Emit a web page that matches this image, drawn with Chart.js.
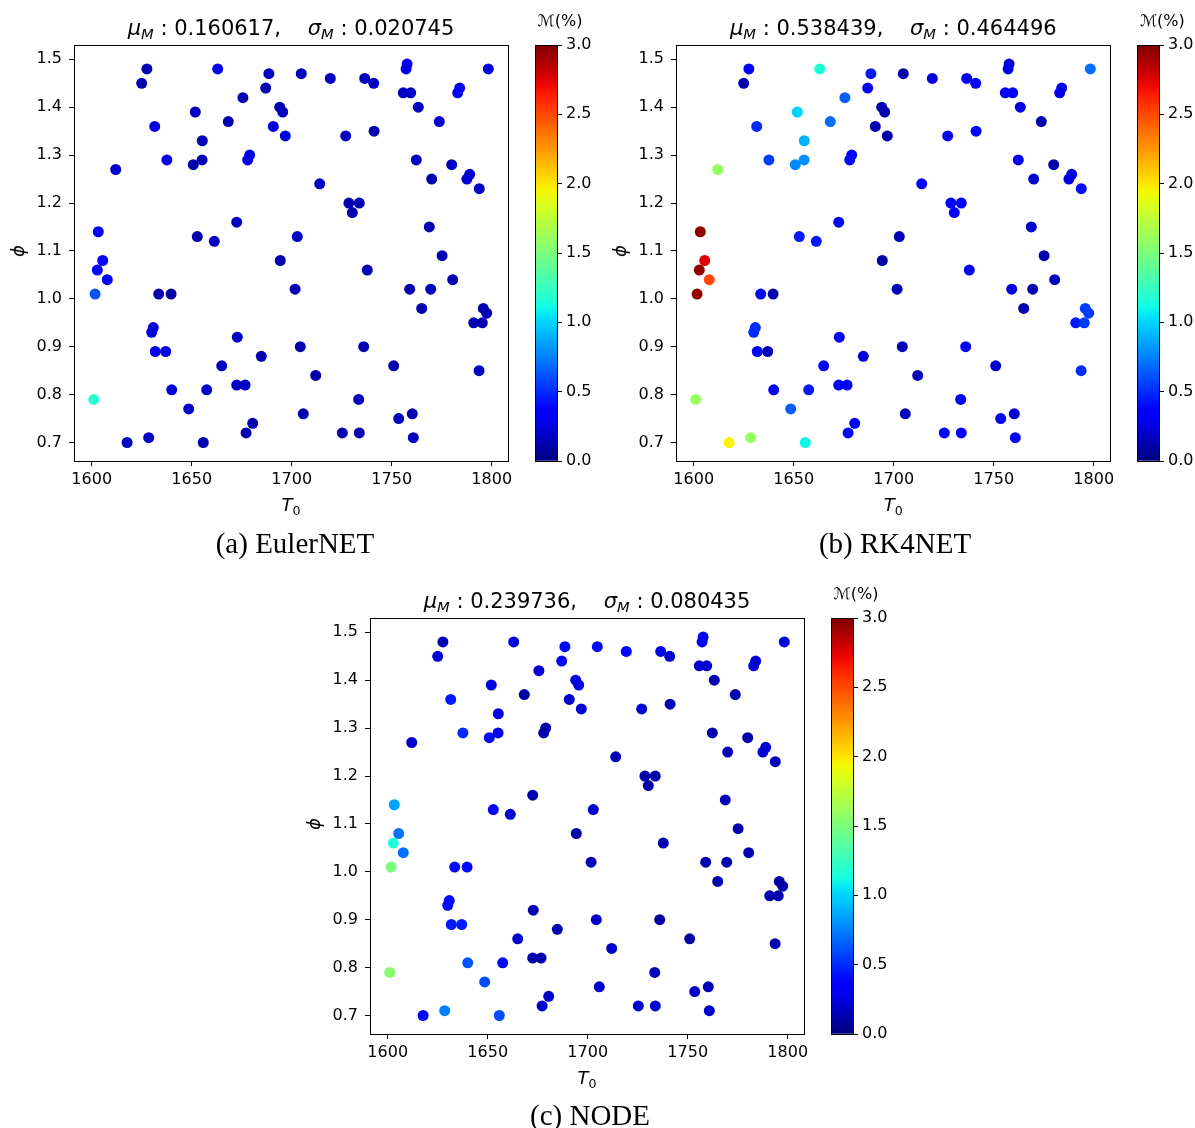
<!DOCTYPE html>
<html>
<head>
<meta charset="utf-8">
<script src="https://cdn.jsdelivr.net/npm/chart.js@4"></script>
<style>
  body { margin: 0; background: #fff; width: 1195px; height: 1128px; position: relative; overflow: hidden; font-family: "DejaVu Sans", sans-serif; }
  canvas { position: absolute; }
  .txt { position: absolute; white-space: pre; color: #000; transform: translate(-50%, -50%); line-height: 1; }
  .title { font-size: 21px; }
  .xlab, .ylab { font-size: 18px; }
  .ylab { transform: translate(-50%, -50%) rotate(-90deg); }
  .cbt { font-size: 16px; }
  .cap { font-family: "Liberation Serif", serif; font-size: 29px; }
  i { font-style: italic; }
  sub { font-size: 0.7em; vertical-align: -0.3em; line-height: 0; }
</style>
</head>
<body>
<script>
// sample locations (same for all three models)
const t0 = [1627.6, 1663.0, 1688.6, 1625.0, 1687.0, 1675.6, 1694.0, 1695.5, 1651.8, 1668.3,
  1631.5, 1690.8, 1696.8, 1655.3, 1679.0, 1678.0, 1637.6, 1655.2, 1650.8, 1612.0,
  1672.5, 1603.3, 1652.8, 1661.3, 1605.5, 1694.3, 1704.8, 1719.3, 1736.5, 1741.0,
  1757.7, 1757.2, 1798.3, 1784.0, 1783.0, 1755.8, 1759.5, 1763.3, 1773.8, 1727.0,
  1741.2, 1762.3, 1780.0, 1789.0, 1787.6, 1770.0, 1793.8, 1714.0, 1728.6, 1733.8,
  1730.3, 1768.8, 1702.8, 1775.2, 1602.8, 1607.8, 1601.7, 1633.5, 1639.7, 1630.8,
  1630.0, 1631.8, 1637.0, 1672.8, 1684.8, 1665.0, 1672.5, 1676.7, 1640.0, 1657.5,
  1601.0, 1648.5, 1680.5, 1677.2, 1617.7, 1628.5, 1655.8, 1737.8, 1701.7, 1759.0,
  1769.5, 1780.5, 1765.0, 1795.8, 1797.5, 1791.0, 1795.3, 1704.3, 1736.0, 1751.0,
  1793.7, 1712.0, 1733.5, 1705.8, 1760.3, 1753.5, 1725.3, 1733.8, 1760.8];
const phi = [1.48, 1.48, 1.47, 1.45, 1.44, 1.42, 1.40, 1.39, 1.39, 1.37,
  1.36, 1.36, 1.34, 1.33, 1.30, 1.29, 1.29, 1.29, 1.28, 1.27,
  1.16, 1.14, 1.13, 1.12, 1.08, 1.08, 1.47, 1.46, 1.46, 1.45,
  1.49, 1.48, 1.48, 1.44, 1.43, 1.43, 1.43, 1.40, 1.37, 1.34,
  1.35, 1.29, 1.28, 1.26, 1.25, 1.25, 1.23, 1.24, 1.20, 1.20,
  1.18, 1.15, 1.13, 1.09, 1.06, 1.04, 1.01, 1.01, 1.01, 0.94,
  0.93, 0.89, 0.89, 0.92, 0.88, 0.86, 0.82, 0.82, 0.81, 0.81,
  0.79, 0.77, 0.74, 0.72, 0.70, 0.71, 0.70, 1.06, 1.02, 1.02,
  1.02, 1.04, 0.98, 0.98, 0.97, 0.95, 0.95, 0.90, 0.90, 0.86,
  0.85, 0.84, 0.79, 0.76, 0.76, 0.75, 0.72, 0.72, 0.71];

// error M(%) per sample
const errEuler = [0.12, 0.26, 0.18, 0.12, 0.12, 0.12, 0.12, 0.17, 0.18, 0.12,
  0.25, 0.24, 0.24, 0.12, 0.26, 0.26, 0.25, 0.13, 0.11, 0.20,
  0.17, 0.35, 0.12, 0.18, 0.33, 0.12, 0.16, 0.16, 0.17, 0.17,
  0.32, 0.27, 0.26, 0.30, 0.30, 0.18, 0.18, 0.17, 0.22, 0.17,
  0.12, 0.17, 0.17, 0.22, 0.22, 0.13, 0.18, 0.18, 0.13, 0.13,
  0.12, 0.13, 0.18, 0.13, 0.36, 0.35, 0.62, 0.10, 0.10, 0.25,
  0.25, 0.26, 0.25, 0.18, 0.12, 0.17, 0.17, 0.17, 0.24, 0.19,
  1.20, 0.20, 0.12, 0.12, 0.17, 0.18, 0.12, 0.13, 0.13, 0.13,
  0.16, 0.13, 0.12, 0.13, 0.13, 0.12, 0.13, 0.12, 0.12, 0.12,
  0.17, 0.12, 0.16, 0.12, 0.12, 0.16, 0.12, 0.12, 0.17];
const errRK4 = [0.33, 1.15, 0.45, 0.12, 0.36, 0.65, 0.12, 0.12, 1.00, 0.70,
  0.50, 0.12, 0.10, 0.90, 0.40, 0.40, 0.55, 0.80, 0.78, 1.60,
  0.35, 2.95, 0.45, 0.45, 2.75, 0.10, 0.10, 0.25, 0.35, 0.35,
  0.22, 0.25, 0.70, 0.30, 0.30, 0.35, 0.35, 0.25, 0.12, 0.38,
  0.38, 0.35, 0.10, 0.25, 0.25, 0.20, 0.40, 0.35, 0.35, 0.35,
  0.35, 0.20, 0.15, 0.12, 2.95, 2.50, 2.95, 0.35, 0.12, 0.50,
  0.50, 0.38, 0.15, 0.35, 0.22, 0.35, 0.35, 0.35, 0.38, 0.45,
  1.60, 0.65, 0.35, 0.35, 1.95, 1.60, 1.10, 0.38, 0.15, 0.25,
  0.12, 0.15, 0.12, 0.55, 0.55, 0.45, 0.55, 0.15, 0.35, 0.20,
  0.50, 0.15, 0.35, 0.15, 0.22, 0.35, 0.35, 0.35, 0.38];
const errNode = [0.12, 0.25, 0.38, 0.22, 0.38, 0.22, 0.25, 0.25, 0.25, 0.10,
  0.45, 0.20, 0.22, 0.27, 0.10, 0.10, 0.50, 0.28, 0.40, 0.20,
  0.12, 0.85, 0.38, 0.22, 0.72, 0.10, 0.40, 0.38, 0.28, 0.20,
  0.38, 0.30, 0.25, 0.22, 0.22, 0.20, 0.20, 0.12, 0.12, 0.22,
  0.15, 0.12, 0.10, 0.22, 0.22, 0.15, 0.15, 0.15, 0.10, 0.10,
  0.10, 0.15, 0.20, 0.12, 1.15, 0.70, 1.50, 0.40, 0.40, 0.40,
  0.40, 0.45, 0.45, 0.12, 0.12, 0.20, 0.12, 0.12, 0.62, 0.40,
  1.55, 0.60, 0.20, 0.20, 0.40, 0.75, 0.60, 0.12, 0.15, 0.12,
  0.12, 0.15, 0.12, 0.10, 0.10, 0.12, 0.12, 0.20, 0.10, 0.10,
  0.12, 0.20, 0.15, 0.20, 0.15, 0.20, 0.20, 0.20, 0.20];

const xTicks = [1600, 1650, 1700, 1750, 1800];
const yTicks = [0.7, 0.8, 0.9, 1.0, 1.1, 1.2, 1.3, 1.4, 1.5];
const cbTicks = [0, 0.5, 1, 1.5, 2, 2.5, 3];
const cbMax = 3.0;

const panels = [
  { dx: 0, dy: 0, err: errEuler, mu: "0.160617", sigma: "0.020745", cap: "(a) EulerNET", capX: 295, capY: 543 },
  { dx: 602.3, dy: 0, err: errRK4, mu: "0.538439", sigma: "0.464496", cap: "(b) RK4NET", capX: 895, capY: 543 },
  { dx: 296, dy: 572.6, err: errNode, mu: "0.239736", sigma: "0.080435", cap: "(c) NODE", capX: 590, capY: 1115 },
];

// matplotlib jet colormap
function interp(pts, v) {
  for (let i = 1; i < pts.length; i++) {
    if (v <= pts[i][0]) {
      const [x0, y0] = pts[i - 1], [x1, y1] = pts[i];
      return y0 + (y1 - y0) * (v - x0) / (x1 - x0);
    }
  }
  return pts[pts.length - 1][1];
}
function jet(v) {
  v = Math.min(1, Math.max(0, v));
  const r = interp([[0, 0], [0.35, 0], [0.66, 1], [0.89, 1], [1, 0.5]], v);
  const g = interp([[0, 0], [0.125, 0], [0.375, 1], [0.64, 1], [0.91, 0], [1, 0]], v);
  const b = interp([[0, 0.5], [0.11, 1], [0.34, 1], [0.65, 0], [1, 0]], v);
  return `rgb(${Math.round(r * 255)},${Math.round(g * 255)},${Math.round(b * 255)})`;
}

const boxPlugin = {
  id: "box",
  afterDraw(chart) {
    const a = chart.chartArea, ctx = chart.ctx;
    ctx.save();
    ctx.strokeStyle = "#000";
    ctx.lineWidth = 1;
    ctx.strokeRect(Math.round(a.left) + 0.5, Math.round(a.top) + 0.5, Math.round(a.right - a.left), Math.round(a.bottom - a.top));
    ctx.restore();
  }
};

function addText(cls, html, x, y) {
  const d = document.createElement("div");
  d.className = "txt " + cls;
  d.innerHTML = html;
  d.style.left = x + "px";
  d.style.top = y + "px";
  document.body.appendChild(d);
}

function makeCanvas(left, top, w, h) {
  const c = document.createElement("canvas");
  c.width = w; c.height = h;
  c.style.left = left + "px"; c.style.top = top + "px";
  c.style.width = w + "px"; c.style.height = h + "px";
  document.body.appendChild(c);
  return c;
}

const tickFont = { family: "DejaVu Sans", size: 16 };
const PAD = 25;

function drawPanel(p) {
  // scatter plot: chart area 434 x 416 at (dx+74, dy+45)
  const cv = makeCanvas(p.dx + 4, p.dy + 45 - PAD, 70 + 434 + 25, PAD + 416 + 45);
  const pts = t0.map((t, i) => ({ x: t, y: phi[i] }));
  new Chart(cv, {
    type: "scatter",
    data: {
      datasets: [{
        data: pts,
        pointRadius: 5.5,
        pointHoverRadius: 5.5,
        borderWidth: 0,
        pointBackgroundColor: p.err.map(e => jet(e / cbMax)),
      }]
    },
    options: {
      responsive: false,
      animation: false,
      layout: { padding: { top: PAD, right: 25, left: 0, bottom: 0 } },
      plugins: { legend: { display: false }, tooltip: { enabled: false } },
      scales: {
        x: {
          type: "linear", min: 1591.15, max: 1808.15,
          afterBuildTicks: (ax) => { ax.ticks = xTicks.map(v => ({ value: v })); },
          afterFit: (ax) => { ax.height = 45; },
          ticks: { color: "#000", font: tickFont, padding: 4, maxRotation: 0, callback: v => String(v) },
          grid: { drawOnChartArea: false, tickLength: 5, tickColor: "#000" },
          border: { display: true, color: "#000" }
        },
        y: {
          type: "linear", min: 0.6614, max: 1.5299,
          afterBuildTicks: (ax) => { ax.ticks = yTicks.map(v => ({ value: v })); },
          afterFit: (ax) => { ax.width = 70; },
          ticks: { color: "#000", font: tickFont, padding: 7, callback: v => Number(v).toFixed(1) },
          grid: { drawOnChartArea: false, tickLength: 5, tickColor: "#000" },
          border: { display: true, color: "#000" }
        }
      }
    },
    plugins: [boxPlugin]
  });

  // colorbar: bar 22 x 416 at (dx+535, dy+45)
  const cb = makeCanvas(p.dx + 535, p.dy + 45 - PAD, 72, PAD + 416 + PAD);
  new Chart(cb, {
    type: "bar",
    data: {
      labels: ["M"],
      datasets: [{
        data: [[0, cbMax]],
        barPercentage: 1,
        categoryPercentage: 1,
        borderWidth: 0,
        backgroundColor: (ctx) => {
          const area = ctx.chart.chartArea;
          if (!area) return "#000";
          const g = ctx.chart.ctx.createLinearGradient(0, area.bottom, 0, area.top);
          for (let i = 0; i <= 40; i++) g.addColorStop(i / 40, jet(i / 40));
          return g;
        }
      }]
    },
    options: {
      responsive: false,
      animation: false,
      layout: { padding: { top: PAD, bottom: PAD, left: 0, right: 0 } },
      plugins: { legend: { display: false }, tooltip: { enabled: false } },
      scales: {
        x: { display: false },
        y: {
          position: "right", min: 0, max: cbMax,
          afterBuildTicks: (ax) => { ax.ticks = cbTicks.map(v => ({ value: v })); },
          afterFit: (ax) => { ax.width = 50; },
          ticks: { color: "#000", font: tickFont, padding: 4, callback: v => Number(v).toFixed(1) },
          grid: { drawOnChartArea: false, tickLength: 5, tickColor: "#000" },
          border: { display: false }
        }
      }
    },
    plugins: [boxPlugin]
  });

  addText("title", `<i>μ</i><sub><i>M</i></sub> : ${p.mu},    <i>σ</i><sub><i>M</i></sub> : ${p.sigma}`, p.dx + 291, p.dy + 28);
  addText("xlab", `<i>T</i><sub>0</sub>`, p.dx + 291, p.dy + 505);
  addText("ylab", `<i>ϕ</i>`, p.dx + 18, p.dy + 251);
  addText("cbt", `ℳ(%)`, p.dx + 560, p.dy + 21);
  addText("cap", p.cap, p.capX, p.capY);
}

panels.forEach(drawPanel);
</script>
</body>
</html>
